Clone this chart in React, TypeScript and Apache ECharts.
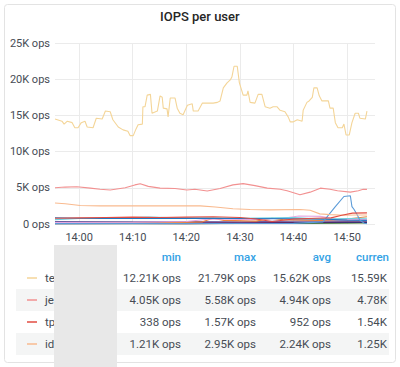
import React, { useEffect, useRef } from "react";
import * as echarts from "echarts";

// minutes relative to 14:00, values in ops
const teMinutes = [-4.5, -3.2, -2.8, -2.2, -1.3, -0.8, -0.2, 0.4, 1.1, 1.5, 2.6, 3.2, 4.3, 4.9, 5.8, 6.3, 7.3, 8.2, 9.1, 9.5, 10.1, 10.6, 11.0, 11.8, 11.9, 12.3, 12.7, 13.3, 13.6, 14.6, 15.1, 15.5, 15.7, 16.4, 16.6, 17.0, 17.9, 18.3, 18.8, 19.4, 20.2, 21.1, 21.3, 22.2, 23.0, 24.1, 25.0, 25.8, 26.3, 26.9, 27.6, 28.2, 28.5, 28.9, 29.5, 29.9, 30.6, 31.3, 31.5, 31.9, 32.8, 33.4, 34.1, 34.7, 35.6, 36.2, 36.9, 37.5, 38.4, 39.0, 39.4, 39.9, 40.7, 41.6, 41.8, 42.5, 42.9, 43.5, 43.8, 44.4, 44.8, 45.3, 46.5, 46.8, 47.4, 47.8, 48.3, 49.1, 49.4, 49.8, 50.4, 50.9, 51.5, 52.1, 52.4, 53.4, 53.7];
const teValues = [14500, 14200, 13800, 14200, 14000, 13300, 13300, 14000, 14200, 13400, 13300, 14600, 14500, 15600, 15500, 14400, 13400, 13000, 12800, 12210, 12210, 13100, 13700, 13800, 16200, 16200, 17800, 17900, 15300, 15600, 17700, 17500, 16000, 15900, 14800, 17400, 17400, 16000, 15300, 15100, 16400, 16600, 15600, 15600, 16700, 16700, 16700, 16800, 17000, 18800, 19500, 19900, 20300, 21790, 21790, 19500, 17800, 17800, 18400, 16800, 16700, 17900, 17900, 16200, 16000, 16200, 16200, 15700, 15500, 14800, 14100, 14100, 14400, 14200, 15700, 16800, 17000, 17500, 18800, 18800, 17700, 17000, 17000, 16000, 16000, 14000, 13300, 13300, 13800, 12300, 12300, 14000, 15300, 15300, 14600, 14500, 15590];

const jeMinutes = [-4.5, -2.6, -0.4, 2.1, 3.9, 5.8, 8.6, 10.4, 11.4, 12.9, 15.1, 17.9, 20.1, 21.6, 23.9, 26.3, 28.7, 30.6, 32.8, 35.1, 37.5, 38.8, 41.2, 43.1, 45.0, 46.8, 48.2, 50.6, 52.1, 53.0, 53.7];
const jeValues = [5000, 5100, 5150, 4950, 4800, 4700, 5000, 5400, 5550, 5200, 4950, 4900, 4700, 4800, 4550, 4900, 5400, 5580, 5300, 4950, 4800, 4600, 4050, 4400, 4950, 4800, 4600, 4400, 4600, 4800, 4780];

const tpMinutes = [-4.5, 0, 5, 10, 15, 20, 25, 30, 33, 36, 40, 44, 47, 49, 51, 53.7];
const tpValues = [800, 850, 900, 950, 900, 950, 1000, 900, 700, 338, 700, 800, 850, 1200, 1500, 1540];

const idMinutes = [-4.5, -2.6, 0.2, 3.9, 13.2, 22.6, 25.4, 28.7, 31.9, 35.6, 41.2, 43.1, 44.9, 46.8, 49.6, 51.5, 53.7];
const idValues = [2900, 2800, 2550, 2500, 2500, 2500, 2350, 2100, 2000, 1950, 2000, 1900, 1400, 1300, 1210, 1250, 1250];

const blueMinutes = [-4.5, 20, 40, 45.5, 47.8, 49.4, 50.6, 50.9, 51.3, 51.9, 52.4, 53.2, 53.7];
const blueValues = [50, 60, 80, 300, 2400, 3800, 3900, 2400, 2000, 1250, 500, 100, 50];

const navyMinutes = [-4.5, 0, 4, 10, 20, 30, 40, 46, 50, 53.7];
const navyValues = [870, 800, 780, 800, 780, 750, 720, 650, 550, 500];

const cyanMinutes = [-4.5, 0, 5, 10, 13, 18, 25, 30, 40, 45, 50, 53.7];
const cyanValues = [600, 750, 800, 880, 950, 850, 850, 800, 900, 700, 750, 800];

const violetMinutes = [-4.5, 10, 20, 24, 28, 32, 38, 41, 45, 48, 53.7];
const violetValues = [200, 250, 350, 650, 650, 600, 800, 1100, 1050, 700, 600];

const orangeMinutes = [-4.5, 15, 23, 25, 27, 33, 36, 38, 45, 50, 53.7];
const orangeValues = [100, 150, 300, 800, 500, 400, 800, 600, 500, 700, 1000];

const purpleMinutes = [-4.5, 10, 20, 30, 40, 50, 53.7];
const purpleValues = [350, 300, 350, 300, 400, 450, 400];

const plumMinutes = [-4.5, 10, 20, 30, 40, 50, 53.7];
const plumValues = [150, 120, 150, 200, 250, 300, 300];

const greenMinutes = [-4.5, 10, 20, 30, 40, 50, 53.7];
const greenValues = [40, 50, 40, 60, 80, 100, 150];

const darkMinutes = [-4.5, 10, 20, 30, 40, 50, 53.7];
const darkValues = [20, 30, 20, 100, 150, 200, 250];

const indigoMinutes = [-4.5, 10, 20, 30, 40, 50, 53.7];
const indigoValues = [80, 100, 90, 120, 180, 220, 200];

const yTicks = [0, 5000, 10000, 15000, 20000, 25000];
const xTickMinutes = [0, 10, 20, 30, 40, 50];
const xTickLabels = ["14:00", "14:10", "14:20", "14:30", "14:40", "14:50"];
const xRange = [-4.5, 55.2];

const legendNames = ["te", "je", "tp", "id"];
const legendColors = ["#F4D598", "#F29191", "#E24D42", "#F9BA8F"];
const legendMin = ["12.21K ops", "4.05K ops", "338 ops", "1.21K ops"];
const legendMax = ["21.79K ops", "5.58K ops", "1.57K ops", "2.95K ops"];
const legendAvg = ["15.62K ops", "4.94K ops", "952 ops", "2.24K ops"];
const legendCurrent = ["15.59K", "4.78K", "1.54K", "1.25K"];
const legendHeaders = ["min", "max", "avg", "curren"];

const toPairs = (mins: number[], vals: number[]) => mins.map((m, i) => [m, vals[i]]);
const fmtOps = (v: number) => (v === 0 ? "0 ops" : v / 1000 + "K ops");

export default function App() {
  const ref = useRef<HTMLDivElement>(null);
  useEffect(() => {
    document.body.style.margin = "0";
    const chart = echarts.init(ref.current!, null, { renderer: "svg" });
    const font = "Roboto, 'Noto Sans', sans-serif";
    const mk = (name: string, color: string, mins: number[], vals: number[]) => ({
      name,
      type: "line",
      xAxisIndex: 0,
      yAxisIndex: 0,
      data: toPairs(mins, vals),
      showSymbol: false,
      lineStyle: { width: 1.1, color },
      itemStyle: { color },
      z: 3,
    });
    const series: any[] = [
      mk("dark", "#3F2B5B", darkMinutes, darkValues),
      mk("green", "#508642", greenMinutes, greenValues),
      mk("indigo", "#0A437C", indigoMinutes, indigoValues),
      mk("plum", "#6D1F62", plumMinutes, plumValues),
      mk("purple", "#705DA0", purpleMinutes, purpleValues),
      mk("orange", "#EF843C", orangeMinutes, orangeValues),
      mk("violet", "#E5A8E2", violetMinutes, violetValues),
      mk("cyan", "#6ED0E0", cyanMinutes, cyanValues),
      mk("navy", "#1F78C1", navyMinutes, navyValues),
      mk("blue", "#5B9BD8", blueMinutes, blueValues),
      mk("id", legendColors[3], idMinutes, idValues),
      mk("tp", legendColors[2], tpMinutes, tpValues),
      mk("je", legendColors[1], jeMinutes, jeValues),
      mk("te", legendColors[0], teMinutes, teValues),
    ];

    // plot geometry: grid 0 spans the full time range, grid 1 spans only the labelled ticks
    const plotLeft = 55;
    const plotRight = 375;
    const pxPerMin = (plotRight - plotLeft) / (xRange[1] - xRange[0]);
    const tickLeft = plotLeft + (xTickMinutes[0] - xRange[0]) * pxPerMin;
    const tickRight = plotLeft + (xTickMinutes[xTickMinutes.length - 1] - xRange[0]) * pxPerMin;

    const colRight = [181, 256, 331, 387];
    const rowY = [278, 300, 322, 344];
    const graphics: any[] = [
      {
        type: "rect",
        shape: { x: 4.5, y: 4.5, width: 391, height: 358, r: 3 },
        style: { fill: "none", stroke: "#e3e3e3", lineWidth: 1 },
        z: 0,
      },
    ];
    [1, 3].forEach((i) => {
      graphics.push({
        type: "rect",
        shape: { x: 16, y: rowY[i] - 11, width: 373, height: 22 },
        style: { fill: "#f4f5f5" },
        z: 1,
      });
    });
    legendHeaders.forEach((h, c) => {
      graphics.push({
        type: "text",
        x: colRight[c] + (c === 3 ? 2 : 0),
        y: 257,
        style: {
          text: h,
          fill: "#33a2e5",
          font: "500 11.5px " + font,
          textAlign: "right",
          textVerticalAlign: "middle",
        },
        z: 3,
      });
    });
    legendNames.forEach((n, r) => {
      graphics.push({
        type: "line",
        shape: { x1: 27, y1: rowY[r], x2: 37, y2: rowY[r] },
        style: { stroke: legendColors[r], lineWidth: 1.5 },
        z: 3,
      });
      graphics.push({
        type: "text",
        x: 45,
        y: rowY[r],
        style: { text: n, fill: "#464c54", font: "11.5px " + font, textVerticalAlign: "middle" },
        z: 3,
      });
      [legendMin[r], legendMax[r], legendAvg[r], legendCurrent[r]].forEach((v, c) => {
        graphics.push({
          type: "text",
          x: colRight[c],
          y: rowY[r],
          style: {
            text: v,
            fill: "#464c54",
            font: "11.5px " + font,
            textAlign: "right",
            textVerticalAlign: "middle",
          },
          z: 3,
        });
      });
    });
    graphics.push({
      type: "rect",
      shape: { x: 54, y: 245, width: 63, height: 122 },
      style: { fill: "#e8e8e8" },
      z: 5,
    });

    chart.setOption({
      animation: false,
      backgroundColor: "#ffffff",
      title: {
        text: "IOPS per user",
        left: 155,
        top: 5,
        textStyle: { fontSize: 13, fontWeight: 500, color: "#262626", fontFamily: font },
      },
      grid: [
        { left: plotLeft, right: 400 - plotRight, top: 43, bottom: 143 },
        { left: tickLeft, width: tickRight - tickLeft, top: 43, bottom: 143 },
      ],
      xAxis: [
        {
          type: "value",
          gridIndex: 0,
          min: xRange[0],
          max: xRange[1],
          show: false,
        },
        {
          type: "value",
          gridIndex: 1,
          min: xTickMinutes[0],
          max: xTickMinutes[xTickMinutes.length - 1],
          interval: xTickMinutes[1] - xTickMinutes[0],
          axisLine: { show: false },
          axisTick: { show: false },
          splitLine: { show: true, lineStyle: { color: "#ebebeb", width: 1 } },
          axisLabel: {
            color: "#464c54",
            fontSize: 11,
            fontFamily: font,
            margin: 8,
            formatter: (v: number) => xTickLabels[xTickMinutes.indexOf(v)] ?? "",
          },
        },
      ],
      yAxis: [
        {
          type: "value",
          gridIndex: 0,
          min: yTicks[0],
          max: yTicks[yTicks.length - 1],
          interval: yTicks[1] - yTicks[0],
          axisLine: { show: false },
          axisTick: { show: false },
          splitLine: { lineStyle: { color: "#ebebeb", width: 1 } },
          axisLabel: { color: "#464c54", fontSize: 11, fontFamily: font, margin: 5, formatter: fmtOps },
        },
        {
          type: "value",
          gridIndex: 1,
          min: yTicks[0],
          max: yTicks[yTicks.length - 1],
          show: false,
        },
      ],
      series,
      graphic: graphics,
    });
    return () => chart.dispose();
  }, []);
  return <div ref={ref} style={{ width: 400, height: 367 }} />;
}
